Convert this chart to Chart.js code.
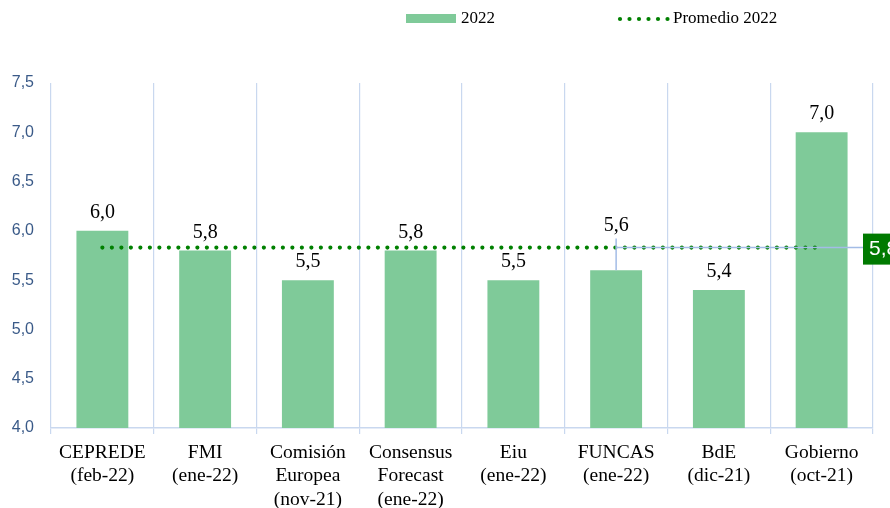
<!DOCTYPE html>
<html>
<head>
<meta charset="utf-8">
<script src="https://cdn.jsdelivr.net/npm/chart.js@4"></script>
<style>
  html, body { margin: 0; padding: 0; background: #fff; }
  #wrap { width: 890px; height: 508px; }
</style>
</head>
<body>
<div id="wrap"><canvas id="chart" width="890" height="508"></canvas></div>
<script>
// chart data
const categorias = [
  ["CEPREDE", "(feb-22)"],
  ["FMI", "(ene-22)"],
  ["Comisión", "Europea", "(nov-21)"],
  ["Consensus", "Forecast", "(ene-22)"],
  ["Eiu", "(ene-22)"],
  ["FUNCAS", "(ene-22)"],
  ["BdE", "(dic-21)"],
  ["Gobierno", "(oct-21)"]
];
const valores2022 = [6.0, 5.8, 5.5, 5.8, 5.5, 5.6, 5.4, 7.0];
const promedio2022 = [5.83, 5.83, 5.83, 5.83, 5.83, 5.83, 5.83, 5.83];
const ticksY = [4.0, 4.5, 5.0, 5.5, 6.0, 6.5, 7.0, 7.5];

const verdeBarra = '#7fca99';
const verdeLinea = '#008000';
const azulGrid = '#c9d8ef';
const serif = "'Liberation Serif', 'Times New Roman', serif";

const fmt = v => v.toFixed(1).replace('.', ',');

// labels above the bars + callout for the average + legend
const extras = {
  id: 'extras',
  afterDatasetsDraw(chart) {
    const ctx = chart.ctx;
    const x = chart.scales.x, y = chart.scales.y;
    const bars = chart.getDatasetMeta(1).data;
    const idx = 5; // category where the average callout is anchored

    ctx.save();
    ctx.fillStyle = '#000';
    ctx.font = '20px ' + serif;
    ctx.textAlign = 'center';
    ctx.textBaseline = 'alphabetic';
    bars.forEach((b, i) => {
      // the FUNCAS label was lifted above the average line in the original
      const lift = i === idx ? 26 : 0;
      ctx.fillText(fmt(valores2022[i]), b.x, b.y - 13 - lift);
    });

    // callout leader lines for the average label
    const px = x.getPixelForValue(idx);
    const py = y.getPixelForValue(promedio2022[idx]);
    const boxX = 863;
    ctx.strokeStyle = '#a3bce6';
    ctx.lineWidth = 1.5;
    ctx.beginPath();
    ctx.moveTo(px, py - 9);
    ctx.lineTo(px, y.getPixelForValue(valores2022[idx]));
    ctx.moveTo(px, py);
    ctx.lineTo(boxX, py);
    ctx.stroke();

    ctx.fillStyle = '#007a00';
    ctx.fillRect(boxX, py - 14, 40, 31);
    ctx.fillStyle = '#fff';
    ctx.font = "21px 'Liberation Sans', Arial, sans-serif";
    ctx.textAlign = 'left';
    ctx.textBaseline = 'middle';
    ctx.fillText(fmt(promedio2022[idx]), boxX + 6, py + 2);

    // legend
    ctx.fillStyle = verdeBarra;
    ctx.fillRect(406, 14, 50, 9);
    ctx.fillStyle = '#000';
    ctx.font = '17px ' + serif;
    ctx.textAlign = 'left';
    ctx.fillText('2022', 461, 19);
    ctx.fillStyle = verdeLinea;
    for (let k = 0; k < 6; k++) {
      ctx.beginPath();
      ctx.arc(620 + k * 9.5, 19, 2.1, 0, Math.PI * 2);
      ctx.fill();
    }
    ctx.fillStyle = '#000';
    ctx.fillText('Promedio 2022', 673, 19);
    ctx.restore();
  }
};

new Chart(document.getElementById('chart'), {
  data: {
    labels: categorias,
    datasets: [
      {
        type: 'line',
        label: 'Promedio 2022',
        data: promedio2022,
        borderColor: verdeLinea,
        borderWidth: 4.2,
        borderDash: [0, 9.5],
        borderCapStyle: 'round',
        pointRadius: 0,
        fill: false,
        order: 0
      },
      {
        type: 'bar',
        label: '2022',
        data: valores2022,
        backgroundColor: verdeBarra,
        barPercentage: 0.505,
        categoryPercentage: 1,
        order: 1
      }
    ]
  },
  options: {
    responsive: false,
    animation: false,
    layout: { padding: { top: 83, right: 17, left: 0, bottom: 0 } },
    plugins: {
      legend: { display: false },
      tooltip: { enabled: false }
    },
    scales: {
      x: {
        offset: true,
        grid: { display: true, offset: true, color: azulGrid, lineWidth: 1.2, tickLength: 6 },
        border: { color: azulGrid, width: 1.5 },
        ticks: {
          color: '#000',
          font: { family: serif, size: 19.5, lineHeight: 1.2 },
          padding: 7,
          maxRotation: 0,
          autoSkip: false
        },
        afterFit(scale) { scale.height = 80; }
      },
      y: {
        min: 4,
        max: 7.5,
        afterBuildTicks(scale) { scale.ticks = ticksY.map(v => ({ value: v })); },
        grid: { display: false, drawTicks: false },
        border: { display: false },
        ticks: {
          color: '#3a5a88',
          font: { family: "'Liberation Sans', Arial, sans-serif", size: 16 },
          padding: 17,
          callback: v => fmt(v)
        },
        afterFit(scale) { scale.width = 51; }
      }
    }
  },
  plugins: [extras]
});
</script>
</body>
</html>
